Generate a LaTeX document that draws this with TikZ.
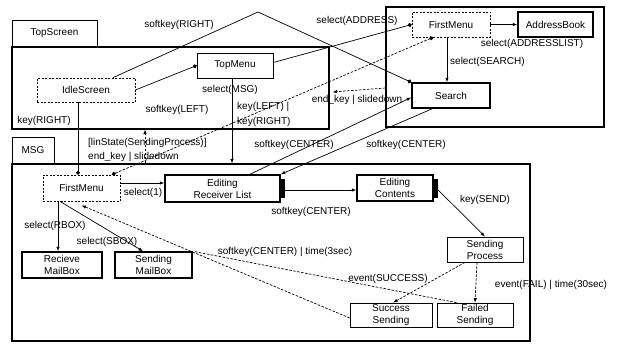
\documentclass[tikz,border=0pt]{standalone}
\usepackage{fontspec}
\setmainfont{Liberation Sans}
\usetikzlibrary{arrows.meta,calc}
\begin{document}
\begin{tikzpicture}[x=1pt,y=-1pt,
  font=\fontsize{10}{12}\selectfont,
  st/.style={draw, line width=0.7pt, inner sep=0pt, align=center},
  dst/.style={st, dash pattern=on 2pt off 1.5pt},
  tst/.style={st, line width=1.5pt},
  comp/.style={draw, line width=1.2pt, inner sep=0pt},
  tabbox/.style={draw, line width=0.7pt, inner sep=0pt},
  lab/.style={inner sep=0pt},
  tr/.style={line width=0.7pt, -{Latex[length=4.5pt,width=3.5pt]}},
  dtr/.style={tr, dash pattern=on 2.5pt off 1.5pt},
  dotend/.style={line width=0.7pt, -{Circle[length=4pt]}},
  blk/.style={fill=black, draw=none, inner sep=0pt, minimum width=5, minimum height=19},
]
\useasboundingbox (0,0) rectangle (620,345);
\fill[white] (0,0) rectangle (620,345);

% composite states
\node[tabbox, minimum width=85, minimum height=27] (tstab) at (54.5,33.5) {TopScreen};
\node[comp, minimum width=317, minimum height=82] (ts) at (170.5,88) {};
\node[tabbox, minimum width=42, minimum height=27] (msgtab) at (33,150.5) {MSG};
\node[comp, minimum width=518, minimum height=177] (msg) at (271,252.5) {};
\node[comp, minimum width=218, minimum height=120] (addr) at (495,67) {};

% TopScreen states
\node[dst, minimum width=98, minimum height=24] (idle) at (86,90) {IdleScreen};
\node[st, minimum width=76, minimum height=25] (tm) at (235,65.5) {TopMenu};

% Address states
\node[dst, minimum width=78, minimum height=25] (af) at (451,24.5) {FirstMenu};
\node[tst, minimum width=75, minimum height=25] (ab) at (555.5,24.5) {AddressBook};
\node[tst, minimum width=78, minimum height=25] (search) at (451,95.5) {Search};

% MSG states
\node[dst, minimum width=77, minimum height=26] (mf) at (81.5,188) {FirstMenu};
\node[tst, minimum width=115, minimum height=27] (erl) at (222.5,188.5) {Editing\\Receiver List};
\node[blk] (erltab) at (282.5,188) {};
\node[tst, minimum width=76, minimum height=26] (ec) at (395,188) {Editing\\Contents};
\node[blk] (ectab) at (435.5,188) {};
\node[st, minimum width=76, minimum height=25] (sp) at (485,249.5) {Sending\\Process};
\node[st, minimum width=82, minimum height=24] (ss) at (391,315) {Success\\Sending};
\node[st, minimum width=76, minimum height=24] (fs) at (475,315) {Failed\\Sending};
\node[tst, minimum width=80, minimum height=26] (rm) at (62,265) {Recieve\\MailBox};
\node[tst, minimum width=77, minimum height=26] (sm) at (153.5,265) {Sending\\MailBox};

% transitions
\coordinate (apex) at (258,12);
\draw[dotend] ([xshift=27pt]idle.north) -- (apex) -- (search.north west);
\node[lab] (l1) at (179,25) {softkey(RIGHT)};

\draw[dotend] (idle.east) -- (tm.west);
\node[lab] (l2) at (177,110) {softkey(LEFT)};

\draw[dotend] ([xshift=-8pt]idle.south) -- ([xshift=-3.5pt]mf.north);
\node[lab] (l3) at (44,121) {key(RIGHT)};

\draw[tr] ([xshift=-3pt]tm.south) -- ([xshift=-3pt]tm.south |- msg.north);
\node[lab] (l4) at (230,90) {select(MSG)};
\node[lab, anchor=west] (l5) at (237,107) {key(LEFT) |};
\node[lab, anchor=west] (l6) at (237,122) {key(RIGHT)};

\draw[dotend] ([yshift=3pt]tm.east) -- (af.west);
\node[lab] (l7) at (357,21) {select(ADDRESS)};

\draw[tr] (af.east) -- (ab.west);
\node[lab] (l8) at (532,44) {select(ADDRESSLIST)};

\draw[tr] ([xshift=-4pt]af.south) -- ([xshift=-4pt]search.north);
\node[lab, anchor=west] (l9) at (450,62) {select(SEARCH)};

\draw[line width=0.7pt, dash pattern=on 2.5pt off 1.5pt, {Circle[length=4pt]}-{Circle[length=4pt]}]
  ([xshift=30.5pt]mf.north) -- ([xshift=-18pt]af.south);

\draw[dtr] (145,0 |- msg.north) -- (145,0 |- ts.south);
\node[lab, anchor=west] (l10) at (88,143) {[linState(SendingProcess)]};
\node[lab, anchor=west] (l11) at (88,157) {end\_key | slidedown};

\draw[dtr] ([yshift=-21pt]addr.west) -- ([xshift=3pt,yshift=-4pt]ts.east);
\node[lab] (l12) at (357,100) {end\_key | slidedown};

\draw[tr] ([xshift=27.5pt]erl.north) -- ([yshift=-2pt]search.west);
\node[lab] (l13) at (294,145) {softkey(CENTER)};
\draw[tr] ([xshift=21pt]search.south west) -- (erl.north east);
\node[lab] (l14) at (406,145) {softkey(CENTER)};

\draw[tr] ([yshift=5pt]mf.east) -- ([yshift=5.5pt]erl.west);
\node[lab] (l15) at (143,193) {select(1)};

\draw[tr] ([yshift=-2pt]erltab.east) -- ([yshift=-2pt]ec.west);
\node[lab] (l16) at (311,212) {softkey(CENTER)};

\draw[tr] ([yshift=-2pt]ectab.east) -- (sp.north);
\node[lab] (l17) at (485,200) {key(SEND)};

\draw[dtr] ([xshift=-20pt]sp.south) -- ([xshift=2pt]ss.north);
\node[lab] (l18) at (388,279) {event(SUCCESS)};
\draw[dtr] ([xshift=-8pt]sp.south) -- (fs.north);
\node[lab] (l19) at (551,285) {event(FAIL) | time(30sec)};

\coordinate (mfin) at ([yshift=-4pt]mf.south);
\coordinate (j) at ($(ss.west)!0.578!(mfin)$);
\draw[dtr] ([yshift=-3pt]ss.west) -- (mfin);
\draw[line width=0.7pt, dash pattern=on 2.5pt off 1.5pt] ([xshift=20pt]fs.north west) -- (j);
\node[lab] (l20) at (285,252) {softkey(CENTER) | time(3sec)};

\draw[tr] ([xshift=-23.5pt]mf.south) -- ([xshift=-4pt]rm.north);
\node[lab] (l21) at (55,226) {select(RBOX)};
\draw[tr] ([xshift=-21.5pt]mf.south) -- ([xshift=-10.5pt]sm.north);
\node[lab] (l22) at (107,242) {select(SBOX)};
\end{tikzpicture}
\end{document}
